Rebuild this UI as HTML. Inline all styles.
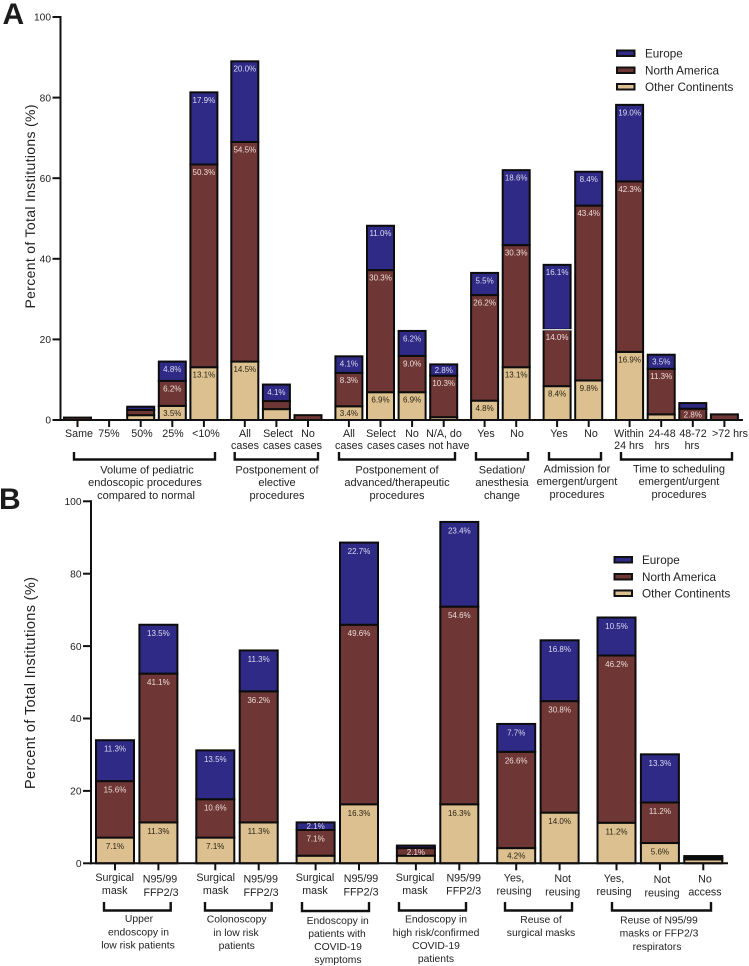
<!DOCTYPE html>
<html lang="en">
<head>
<meta charset="utf-8">
<title>Institution survey stacked bar charts</title>
<style>
html,body{margin:0;padding:0;background:#fff;}
body{width:749px;height:966px;overflow:hidden;}
svg{display:block;font-family:"Liberation Sans",Arial,sans-serif;filter:blur(0.3px);}
.tk{font-size:10.7px;fill:#222;text-anchor:middle;}
.gp{font-size:11px;fill:#222;text-anchor:middle;}
.gpb{font-size:10.35px;fill:#222;text-anchor:middle;}
.yt{font-size:10.2px;fill:#222;text-anchor:end;}
.lg{font-size:11.7px;fill:#222;}
.ttl{font-size:14px;fill:#222;text-anchor:middle;}
.pan{font-size:30px;font-weight:bold;fill:#1c1c1c;}
.br{fill:none;stroke:#111;stroke-width:2.4;}
</style>
</head>
<body>
<svg id="figure" width="749" height="966" viewBox="0 0 749 966" xmlns="http://www.w3.org/2000/svg">
  <rect x="0" y="0" width="749" height="966" fill="#fff"/>
  <g id="barsA"></g>
  <g id="axesA"></g>
  <g id="barsB"></g>
  <g id="axesB"></g>

  <text class="pan" x="2.5" y="24">A</text>
  <text class="pan" x="-1" y="509">B</text>

  <text class="ttl" transform="translate(35,206.5) rotate(-90)" textLength="204" lengthAdjust="spacing">Percent of Total Institutions (%)</text>
  <text class="ttl" style="font-size:14.5px" transform="translate(35,683) rotate(-90)" textLength="212" lengthAdjust="spacing">Percent of Total Institutions (%)</text>

  <!-- Panel A tick labels -->
  <g>
    <text class="tk" x="79" y="437">Same</text>
    <text class="tk" x="109" y="437">75%</text>
    <text class="tk" x="142" y="437">50%</text>
    <text class="tk" x="173" y="437">25%</text>
    <text class="tk" x="206" y="437">&lt;10%</text>
    <text class="tk" x="245" y="437">All</text><text class="tk" x="245" y="449">cases</text>
    <text class="tk" x="278" y="437">Select</text><text class="tk" x="277" y="449">cases</text>
    <text class="tk" x="308" y="437">No</text><text class="tk" x="308" y="449">cases</text>
    <text class="tk" x="349" y="437">All</text><text class="tk" x="349" y="449">cases</text>
    <text class="tk" x="381" y="437">Select</text><text class="tk" x="381" y="449">cases</text>
    <text class="tk" x="412" y="437">No</text><text class="tk" x="411" y="449">cases</text>
    <text class="tk" x="444" y="437">N/A, do</text><text class="tk" x="449" y="449">not have</text>
    <text class="tk" x="486" y="437">Yes</text>
    <text class="tk" x="517" y="437">No</text>
    <text class="tk" x="559" y="437">Yes</text>
    <text class="tk" x="591" y="437">No</text>
    <text class="tk" x="629" y="437">Within</text><text class="tk" x="629" y="449">24 hrs</text>
    <text class="tk" x="662" y="437">24-48</text><text class="tk" x="662" y="449">hrs</text>
    <text class="tk" x="693" y="437">48-72</text><text class="tk" x="692" y="449">hrs</text>
    <text class="tk" x="730" y="437">&gt;72 hrs</text>
  </g>

  <!-- Panel A group brackets -->
  <g>
    <polyline class="br" points="74,452 74,459.5 215,459.5 215,452"/>
    <polyline class="br" points="234.7,452 234.7,459.5 318,459.5 318,452"/>
    <polyline class="br" points="339,452 339,459.5 455,459.5 455,452"/>
    <polyline class="br" points="476,452 476,459.5 528,459.5 528,452"/>
    <polyline class="br" points="549,452 549,459.5 601,459.5 601,452"/>
    <polyline class="br" points="621,452 621,459.5 732,459.5 732,452"/>
  </g>

  <!-- Panel A group labels -->
  <g>
    <text class="gp" x="147" y="473.5">Volume of pediatric</text>
    <text class="gp" x="145" y="486">endoscopic procedures</text>
    <text class="gp" x="146" y="499">compared to normal</text>
    <text class="gp" x="277" y="473.5">Postponement of</text>
    <text class="gp" x="277" y="486">elective</text>
    <text class="gp" x="277" y="499">procedures</text>
    <text class="gp" x="397" y="473.5">Postponement of</text>
    <text class="gp" x="397" y="486">advanced/therapeutic</text>
    <text class="gp" x="397" y="499">procedures</text>
    <text class="gp" x="502" y="473.5">Sedation/</text>
    <text class="gp" x="502" y="486">anesthesia</text>
    <text class="gp" x="502" y="499">change</text>
    <text class="gp" x="577" y="472.5">Admission for</text>
    <text class="gp" x="577" y="485">emergent/urgent</text>
    <text class="gp" x="577" y="498">procedures</text>
    <text class="gp" x="679" y="472.5">Time to scheduling</text>
    <text class="gp" x="679" y="485">emergent/urgent</text>
    <text class="gp" x="679" y="498">procedures</text>
  </g>

  <!-- Panel A legend -->
  <g>
    <g><rect x="617" y="50.5" width="17.5" height="5.5" fill="#2e2a85" stroke="#111" stroke-width="2"/><text class="lg" x="645" y="57.5">Europe</text></g>
    <g><rect x="617" y="67.5" width="17.5" height="5.5" fill="#6e3735" stroke="#111" stroke-width="2"/><text class="lg" x="645" y="74.5">North America</text></g>
    <g><rect x="617" y="84" width="17.5" height="5.5" fill="#dcc08f" stroke="#111" stroke-width="2"/><text class="lg" x="645" y="91">Other Continents</text></g>
  </g>

  <!-- Panel B tick labels -->
  <g>
    <text class="tk" x="114.7" y="881">Surgical</text><text class="tk" x="114.7" y="894">mask</text>
    <text class="tk" x="160" y="882.5">N95/99</text><text class="tk" x="161" y="896">FFP2/3</text>
    <text class="tk" x="215.7" y="881">Surgical</text><text class="tk" x="215.7" y="894">mask</text>
    <text class="tk" x="260.7" y="882.5">N95/99</text><text class="tk" x="261" y="896">FFP2/3</text>
    <text class="tk" x="315" y="881">Surgical</text><text class="tk" x="315" y="894">mask</text>
    <text class="tk" x="361" y="882">N95/99</text><text class="tk" x="361" y="895.5">FFP2/3</text>
    <text class="tk" x="415" y="881">Surgical</text><text class="tk" x="415" y="894">mask</text>
    <text class="tk" x="463.7" y="881.5">N95/99</text><text class="tk" x="463.7" y="894.5">FFP2/3</text>
    <text class="tk" x="514" y="881.5">Yes,</text><text class="tk" x="514" y="894.5">reusing</text>
    <text class="tk" x="562.7" y="882">Not</text><text class="tk" x="562.7" y="895.5">reusing</text>
    <text class="tk" x="614" y="882">Yes,</text><text class="tk" x="614" y="895">reusing</text>
    <text class="tk" x="662" y="883">Not</text><text class="tk" x="662" y="896.5">reusing</text>
    <text class="tk" x="705" y="882.5">No</text><text class="tk" x="705" y="895.5">access</text>
  </g>

  <!-- Panel B group brackets -->
  <g>
    <polyline class="br" points="104,902 104,910.5 170.7,910.5 170.7,902"/>
    <polyline class="br" points="205,902 205,910.5 271.7,910.5 271.7,902"/>
    <polyline class="br" points="302,902 302,911 369,911 369,902"/>
    <polyline class="br" points="399,902 399,910.5 466,910.5 466,902"/>
    <polyline class="br" points="505,902 505,910.5 572,910.5 572,902"/>
    <polyline class="br" points="612,902 612,910.5 711,910.5 711,902"/>
  </g>

  <!-- Panel B group labels -->
  <g>
    <text class="gpb" x="139" y="922">Upper</text>
    <text class="gpb" x="138.5" y="935.5">endoscopy in</text>
    <text class="gpb" x="138" y="948.5">low risk patients</text>
    <text class="gpb" x="236.7" y="922.7">Colonoscopy</text>
    <text class="gpb" x="236" y="936">in low risk</text>
    <text class="gpb" x="236.7" y="949">patients</text>
    <text class="gpb" x="337.7" y="924">Endoscopy in</text>
    <text class="gpb" x="337" y="937">patients with</text>
    <text class="gpb" x="338" y="950">COVID-19</text>
    <text class="gpb" x="338" y="963">symptoms</text>
    <text class="gpb" x="436" y="922.7">Endoscopy in</text>
    <text class="gpb" x="436" y="936">high risk/confirmed</text>
    <text class="gpb" x="436" y="949">COVID-19</text>
    <text class="gpb" x="436" y="962">patients</text>
    <text class="gpb" x="541" y="923">Reuse of</text>
    <text class="gpb" x="541" y="936">surgical masks</text>
    <text class="gpb" x="659" y="923.7">Reuse of N95/99</text>
    <text class="gpb" x="659" y="936.7">masks or FFP2/3</text>
    <text class="gpb" x="657" y="950">respirators</text>
  </g>

  <!-- Panel B legend -->
  <g>
    <g><rect x="614.5" y="557" width="17.5" height="5.5" fill="#2e2a85" stroke="#111" stroke-width="2"/><text class="lg" x="642" y="564">Europe</text></g>
    <g><rect x="614.5" y="574" width="17.5" height="5.5" fill="#6e3735" stroke="#111" stroke-width="2"/><text class="lg" x="642" y="581">North America</text></g>
    <g><rect x="614.5" y="590.5" width="17.5" height="5.5" fill="#dcc08f" stroke="#111" stroke-width="2"/><text class="lg" x="642" y="597.5">Other Continents</text></g>
  </g>
</svg>

<script>
// Shared axis tick labels
const yTicks = [0, 20, 40, 60, 80, 100];

// Panel A data
const categoriesA = ["Same","75%","50%","25%","<10%","All cases","Select cases","No cases","All cases","Select cases","No cases","N/A, do not have","Yes","No","Yes","No","Within 24 hrs","24-48 hrs","48-72 hrs",">72 hrs"];
const groupsA = [0,0,0,0,0,1,1,1,2,2,2,2,3,3,4,4,5,5,5,5];
const otherA  = [0,0,1.2,3.5,13.1,14.5,2.7,0,3.4,6.9,6.9,0.7,4.8,13.1,8.4,9.8,16.9,1.4,0,0];
const northA  = [0.6,0,1.3,6.2,50.3,54.5,2.0,1.2,8.3,30.3,9.0,10.3,26.2,30.3,14.0,43.4,42.3,11.3,2.8,1.4];
const europeA = [0,0,0.8,4.8,17.9,20.0,4.1,0,4.1,11.0,6.2,2.8,5.5,18.6,16.1,8.4,19.0,3.5,1.4,0];
const otherLabelsA  = ["","","","3.5%","13.1%","14.5%","","","3.4%","6.9%","6.9%","","4.8%","13.1%","8.4%","9.8%","16.9%","","",""];
const northLabelsA  = ["","","","6.2%","50.3%","54.5%","","","8.3%","30.3%","9.0%","10.3%","26.2%","30.3%","14.0%","43.4%","42.3%","11.3%","2.8%",""];
const europeLabelsA = ["","","","4.8%","17.9%","20.0%","4.1%","","4.1%","11.0%","6.2%","2.8%","5.5%","18.6%","16.1%","8.4%","19.0%","3.5%","",""];

// Panel B data
const categoriesB = ["Surgical mask","N95/99 FFP2/3","Surgical mask","N95/99 FFP2/3","Surgical mask","N95/99 FFP2/3","Surgical mask","N95/99 FFP2/3","Yes, reusing","Not reusing","Yes, reusing","Not reusing","No access"];
const groupsB = [0,0,1,1,2,2,3,3,4,4,5,5,5];
const otherB  = [7.1,11.3,7.1,11.3,2.1,16.3,2.1,16.3,4.2,14.0,11.2,5.6,1.05];
const northB  = [15.6,41.1,10.6,36.2,7.1,49.6,2.1,54.6,26.6,30.8,46.2,11.2,0.5];
const europeB = [11.3,13.5,13.5,11.3,2.1,22.7,0.7,23.4,7.7,16.8,10.5,13.3,0.45];
const otherLabelsB  = ["7.1%","11.3%","7.1%","11.3%","","16.3%","","16.3%","4.2%","14.0%","11.2%","5.6%",""];
const northLabelsB  = ["15.6%","41.1%","10.6%","36.2%","7.1%","49.6%","2.1%","54.6%","26.6%","30.8%","46.2%","11.2%",""];
const europeLabelsB = ["11.3%","13.5%","13.5%","11.3%","2.1%","22.7%","","23.4%","7.7%","16.8%","10.5%","13.3%",""];

const NS = "http://www.w3.org/2000/svg";
const FILLS = {europe:"#2e2a85", north:"#6e3735", other:"#dcc08f"};
const TEXTS = {europe:"#dcdcf0", north:"#ecdcd8", other:"#2a2418"};

function make(tag, attrs, parent) {
  const el = document.createElementNS(NS, tag);
  for (const k in attrs) el.setAttribute(k, attrs[k]);
  parent.appendChild(el);
  return el;
}

function drawPanel(cfg) {
  const barsLayer = document.getElementById(cfg.barsId);
  const axesLayer = document.getElementById(cfg.axesId);
  const y = v => cfg.y0 - v * cfg.pxPerPct;
  const x = i => cfg.x0 + cfg.step * i + cfg.gap * cfg.groups[i];
  const hw = cfg.barWidth / 2;

  cfg.categories.forEach((cat, i) => {
    const stack = [
      {key:"other", name:"other-continents", v:cfg.other[i], label:cfg.otherLabels[i]},
      {key:"north", name:"north-america", v:cfg.north[i], label:cfg.northLabels[i]},
      {key:"europe", name:"europe", v:cfg.europe[i], label:cfg.europeLabels[i]}
    ];
    let base = 0;
    stack.forEach(seg => {
      if (seg.v > 0) {
        const top = y(base + seg.v);
        const h = y(base) - top;
        const r = make("rect", {x:x(i) - hw, y:top, width:cfg.barWidth, height:h, fill:FILLS[seg.key], stroke:"#0c0c0c", "stroke-width":2}, barsLayer);
        
        
        const tip = make("title", {}, r);
        tip.textContent = cat + ": " + seg.v + "%";
        seg.top = top;
        seg.h = h;
      }
      base += seg.v;
    });
    stack.forEach(seg => {
      if (seg.v > 0 && seg.label) {
        const t = make("text", {x:x(i), y:seg.top + Math.min(cfg.labelDrop, seg.h / 2 + 2.9), "text-anchor":"middle", "font-size":"8px", fill:TEXTS[seg.key]}, barsLayer);
        
        
        t.textContent = seg.label;
      }
    });
    if (cfg.whiteGapIndex === i) {
      const boundary = y(stack[0].v + stack[1].v);
      const w = make("line", {x1:x(i) - hw - 1.5, x2:x(i) + hw + 1.5, y1:boundary, y2:boundary, stroke:"#f2f2f2", "stroke-width":1.2}, barsLayer);
      
      
    }
    const tick = make("line", {x1:x(i), x2:x(i), y1:cfg.y0, y2:cfg.y0 + cfg.tickLen, stroke:"#111", "stroke-width":2}, axesLayer);
    
    
  });

  const xAxis = make("line", {x1:cfg.axisX - 1, x2:cfg.axisEnd, y1:cfg.y0, y2:cfg.y0, stroke:"#111", "stroke-width":2}, axesLayer);
  
  
  const yAxis = make("line", {x1:cfg.axisX, x2:cfg.axisX, y1:y(100) - 1, y2:cfg.y0 + 1, stroke:"#111", "stroke-width":2}, axesLayer);
  
  

  yTicks.forEach(v => {
    const m = make("line", {x1:cfg.axisX - 8, x2:cfg.axisX, y1:y(v), y2:y(v), stroke:"#111", "stroke-width":2}, axesLayer);
    
    
    const t = make("text", {class:"yt", x:cfg.axisX - 9.5, y:y(v) + 3.7}, axesLayer);
    
    
    t.textContent = v;
  });
}

drawPanel({
  barsId:"barsA", axesId:"axesA",
  categories:categoriesA, groups:groupsA,
  other:otherA, north:northA, europe:europeA,
  otherLabels:otherLabelsA, northLabels:northLabelsA, europeLabels:europeLabelsA,
  y0:420, pxPerPct:4.03, x0:77.5, step:31.6, gap:9.3, barWidth:27,
  axisX:60.5, axisEnd:743, tickLen:7, labelDrop:10.4, whiteGapIndex:14
});
drawPanel({
  barsId:"barsB", axesId:"axesB",
  categories:categoriesB, groups:groupsB,
  other:otherB, north:northB, europe:europeB,
  otherLabels:otherLabelsB, northLabels:northLabelsB, europeLabels:europeLabelsB,
  y0:863.3, pxPerPct:3.62, x0:115, step:43.4, gap:13.5, barWidth:38,
  axisX:91, axisEnd:728, tickLen:7, labelDrop:11.5, whiteGapIndex:-1
});
</script>
</body>
</html>
